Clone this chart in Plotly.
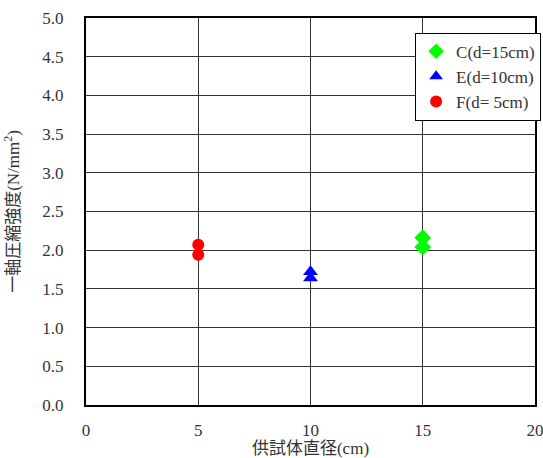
import plotly.graph_objects as go

c_x = [15, 15]
c_y = [2.16, 2.04]
e_x = [10, 10]
e_y = [1.72, 1.64]
f_x = [5, 5]
f_y = [2.07, 1.94]

font_family = "Liberation Serif, Noto Sans CJK JP, serif"

fig = go.Figure()
fig.add_trace(go.Scatter(x=c_x, y=c_y, mode="markers", name="C(d=15cm)",
                         marker=dict(symbol="diamond", color="#00FF00", size=13)))
fig.add_trace(go.Scatter(x=e_x, y=e_y, mode="markers", name="E(d=10cm)",
                         marker=dict(symbol="triangle-up", color="#0000FF", size=13)))
fig.add_trace(go.Scatter(x=f_x, y=f_y, mode="markers", name="F(d= 5cm)",
                         marker=dict(symbol="circle", color="#FF0000", size=12)))

fig.update_layout(
    width=543, height=458,
    margin=dict(l=86, r=8, t=18, b=53, autoexpand=False),
    paper_bgcolor="white", plot_bgcolor="white",
    font=dict(family=font_family, size=17, color="#333333"),
    showlegend=True,
    legend=dict(x=0.733, y=0.962, xanchor="left", yanchor="top",
                bordercolor="black", borderwidth=1, bgcolor="white",
                font=dict(size=17, color="#333333"), itemsizing="constant",
                tracegroupgap=0),
    xaxis=dict(range=[0, 20], dtick=5, tick0=0, showgrid=True, gridcolor="#333333",
               gridwidth=1, showline=True, linecolor="black", linewidth=2, mirror=True,
               zeroline=False, ticks="", ticklabelstandoff=9, automargin=False,
               ticklabeloverflow="allow",
               title=dict(text="供試体直径(cm)", standoff=0, font=dict(size=17))),
    yaxis=dict(range=[0, 5], dtick=0.5, tick0=0, tickformat=".1f", showgrid=True,
               gridcolor="#333333", gridwidth=1, showline=True, linecolor="black",
               linewidth=2, mirror=True, zeroline=False, ticks="", ticklabelstandoff=17,
               automargin=False, ticklabeloverflow="allow",
               title=dict(text="一軸圧縮強度(N/mm<sup>2</sup>)", standoff=18, font=dict(size=17))),
)

fig.write_html("out.html", config={"displayModeBar": False},
               post_script="document.body.style.margin='0';document.body.style.padding='0';")
